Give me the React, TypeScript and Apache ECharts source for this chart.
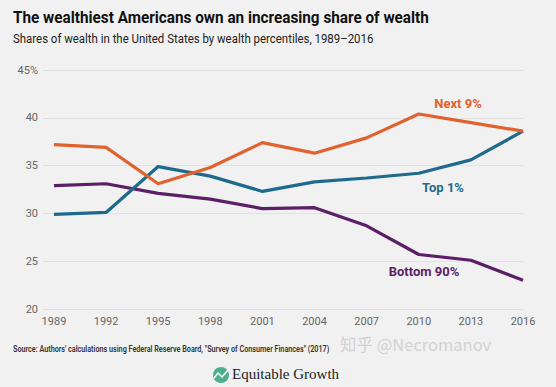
import React, { useEffect, useRef } from "react";
import * as echarts from "echarts";

const years = [1989, 1992, 1995, 1998, 2001, 2004, 2007, 2010, 2013, 2016];
const next9 = [37.2, 36.9, 33.1, 34.8, 37.4, 36.3, 37.9, 40.4, 39.5, 38.6];
const top1 = [29.9, 30.1, 34.9, 33.9, 32.3, 33.3, 33.7, 34.2, 35.6, 38.6];
const bottom90 = [32.9, 33.1, 32.1, 31.5, 30.5, 30.6, 28.7, 25.7, 25.1, 23.0];
const yTicks = [20, 25, 30, 35, 40, 45];

const ORANGE = "#E0622E";
const BLUE = "#1E6A8D";
const PURPLE = "#5B1E67";
const FONT = "Roboto, 'Noto Sans', sans-serif";

export default function App() {
  const ref = useRef<HTMLDivElement>(null);
  useEffect(() => {
    const chart = echarts.init(ref.current!, null, { renderer: "svg" });
    const mk = (name: string, vals: number[], color: string) => ({
      name,
      type: "line",
      data: years.map((y, i) => [y, vals[i]]),
      showSymbol: false,
      lineStyle: { color, width: 3.2 },
      itemStyle: { color },
    });
    chart.setOption({
      animation: false,
      backgroundColor: "#F1F1F1",
      grid: { left: 43, right: 33, top: 70, bottom: 78, containLabel: false },
      xAxis: {
        type: "value",
        min: 1988.37,
        max: 2016,
        axisLine: { show: false },
        axisTick: { show: false },
        splitLine: { show: false },
        axisLabel: {
          customValues: years,
          color: "#666",
          fontFamily: FONT,
          fontSize: 11,
          margin: 7,
          formatter: (v: number) => String(v),
        },
      },
      yAxis: {
        type: "value",
        min: 20,
        max: 45,
        interval: 5,
        axisLine: { show: false },
        axisTick: { show: false },
        splitLine: { lineStyle: { color: "#E2E2E2", width: 1 } },
        axisLabel: {
          color: "#666",
          fontFamily: FONT,
          fontSize: 11,
          margin: 5,
          formatter: (v: number) => (v === yTicks[yTicks.length - 1] ? v + "%" : String(v)),
        },
      },
      series: [
        mk("Bottom 90%", bottom90, PURPLE),
        mk("Top 1%", top1, BLUE),
        mk("Next 9%", next9, ORANGE),
      ],
      graphic: [
        {
          type: "text",
          x: 13,
          y: 9,
          scaleX: 0.9,
          style: {
            text: "The wealthiest Americans own an increasing share of wealth",
            font: `bold 17px ${FONT}`,
            fill: "#111",
            align: "left",
            verticalAlign: "top",
          },
        },
        {
          type: "text",
          x: 13,
          y: 32,
          scaleX: 0.88,
          style: {
            text: "Shares of wealth in the United States by wealth percentiles, 1989–2016",
            font: `13px ${FONT}`,
            fill: "#222",
            align: "left",
            verticalAlign: "top",
          },
        },
        {
          type: "text",
          x: 458,
          y: 103,
          style: { text: "Next 9%", font: `bold 13px ${FONT}`, fill: ORANGE, align: "center", verticalAlign: "middle" },
        },
        {
          type: "text",
          x: 443,
          y: 187,
          style: { text: "Top 1%", font: `bold 13px ${FONT}`, fill: BLUE, align: "center", verticalAlign: "middle" },
        },
        {
          type: "text",
          x: 424,
          y: 271,
          style: { text: "Bottom 90%", font: `bold 13px ${FONT}`, fill: PURPLE, align: "center", verticalAlign: "middle" },
        },
        {
          type: "text",
          x: 13,
          y: 345,
          scaleX: 0.85,
          style: {
            text: "Source: Authors' calculations using Federal Reserve Board, \"Survey of Consumer Finances\" (2017)",
            font: `600 8.5px ${FONT}`,
            fill: "#333",
            align: "left",
            verticalAlign: "top",
          },
        },
        {
          type: "text",
          x: 340,
          y: 336,
          style: {
            text: "知乎 @Necromanov",
            font: `16.5px 'Noto Sans CJK SC', sans-serif`,
            fill: "#D2D2D2",
            align: "left",
            verticalAlign: "top",
          },
        },
        {
          type: "circle",
          shape: { cx: 221, cy: 375, r: 8 },
          style: { fill: "#4FAE8C" },
        },
        {
          type: "polyline",
          shape: { points: [[214, 378], [218, 373], [222, 377], [228, 370]] },
          style: { stroke: "#FFFFFF", lineWidth: 1.5, fill: null },
        },
        {
          type: "text",
          x: 232,
          y: 366,
          style: {
            text: "Equitable Growth",
            font: `15px 'Liberation Serif', 'DejaVu Serif', serif`,
            fill: "#222",
            align: "left",
            verticalAlign: "top",
          },
        },
      ],
    });
    return () => chart.dispose();
  }, []);
  return <div ref={ref} style={{ width: 556, height: 387, position: "absolute", left: 0, top: 0 }} />;
}
